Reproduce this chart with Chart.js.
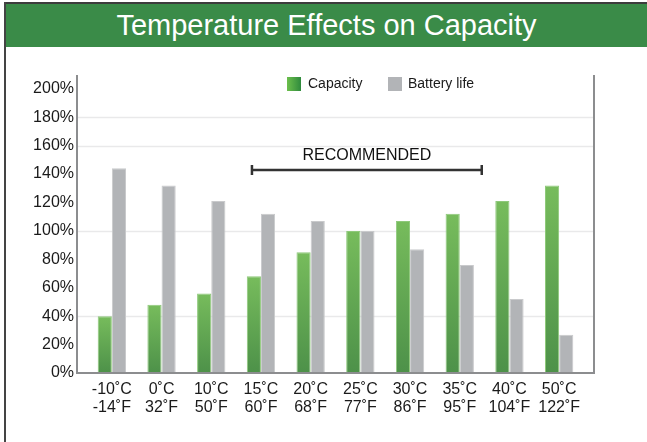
<!DOCTYPE html>
<html lang="en">
<head>
  <meta charset="UTF-8">
  <title>Temperature Effects on Capacity</title>
  <script src="https://cdn.jsdelivr.net/npm/chart.js"></script>
  <style>
    body { margin: 0; background: #fff; font-family: "Liberation Sans", Arial, sans-serif; }
    .page { position: relative; width: 647px; height: 442px; overflow: hidden; background: #fff; }
    .edge-top { position: absolute; left: 4px; top: 2px; right: 0; height: 2px; background: #3c3c3c; }
    .edge-left { position: absolute; left: 4px; top: 2px; bottom: 0; width: 2px; background: #444; }
    .banner {
      position: absolute; left: 6px; top: 4px; right: 0; height: 43px;
      background: #3a8b48; color: #fff; text-align: center;
      font-size: 29px; line-height: 43px;
    }
    #chart { position: absolute; left: 0; top: 48px; }
  </style>
</head>
<body>
  <div class="page">
    <div class="banner">Temperature Effects on Capacity</div>
    <canvas id="chart" width="647" height="394"></canvas>
    <div class="edge-top"></div>
    <div class="edge-left"></div>
  </div>

  <script>
    const categories = [
      ['-10˚C', '-14˚F'], ['0˚C', '32˚F'], ['10˚C', '50˚F'], ['15˚C', '60˚F'], ['20˚C', '68˚F'],
      ['25˚C', '77˚F'], ['30˚C', '86˚F'], ['35˚C', '95˚F'], ['40˚C', '104˚F'], ['50˚C', '122˚F']
    ];
    const capacity = [40, 48, 56, 68, 85, 100, 107, 112, 121, 132];
    const batteryLife = [144, 132, 121, 112, 107, 100, 87, 76, 52, 27];
    const yTicks = [0, 20, 40, 60, 80, 100, 120, 140, 160, 180, 200];
    const gridValues = [40, 100, 160, 180];
    const recommendedRange = [3, 7];   // 15˚C .. 35˚C
    const recommendedLabel = 'RECOMMENDED';

    const FONT = '"Liberation Sans", Arial, sans-serif';

    function greenFill(context) {
      const chart = context.chart;
      const y = chart.scales.y;
      if (!y || context.raw == null) return '#62a853';
      const top = y.getPixelForValue(context.raw);
      const bottom = y.getPixelForValue(0);
      if (!isFinite(top) || !isFinite(bottom)) return '#62a853';
      const g = chart.ctx.createLinearGradient(0, top, 0, bottom);
      g.addColorStop(0, '#77bc5c');
      g.addColorStop(1, '#4d9149');
      return g;
    }

    // axes frame, sparse gridlines, legend and the recommended bracket
    const decor = {
      id: 'decor',
      beforeDatasetsDraw(chart) {
        const { ctx, scales: { x, y } } = chart;
        const left = x.left - 10, right = x.right + 10;
        ctx.save();
        ctx.strokeStyle = '#e9e9ea';
        ctx.lineWidth = 1.5;
        gridValues.forEach(v => {
          const py = Math.round(y.getPixelForValue(v)) + 0.5;
          ctx.beginPath();
          ctx.moveTo(left, py);
          ctx.lineTo(right, py);
          ctx.stroke();
        });
        ctx.restore();
      },
      afterDatasetsDraw(chart) {
        const { ctx, scales: { x, y } } = chart;
        const left = x.left - 10, right = x.right + 10;
        const top = y.top - 1, bottom = y.getPixelForValue(0);

        ctx.save();
        ctx.strokeStyle = '#8c8d8f';
        ctx.lineWidth = 2;
        ctx.beginPath();
        ctx.moveTo(left, top);
        ctx.lineTo(left, bottom);
        ctx.lineTo(right, bottom);
        ctx.lineTo(right, top);
        ctx.stroke();

        // legend
        const ds = chart.data.datasets;
        const ly = y.top + 1;
        const lg = ctx.createLinearGradient(287, 0, 301, 0);
        lg.addColorStop(0, '#6cbf4c');
        lg.addColorStop(1, '#2f8a3d');
        ctx.fillStyle = lg;
        ctx.fillRect(287, ly, 14, 14);
        ctx.fillStyle = ds[1].backgroundColor;
        ctx.fillRect(388, ly, 14, 14);
        ctx.fillStyle = '#1a1a1a';
        ctx.font = '14px ' + FONT;
        ctx.textBaseline = 'middle';
        ctx.textAlign = 'left';
        ctx.fillText(ds[0].label, 308, ly + 7);
        ctx.fillText(ds[1].label, 408, ly + 7);

        // recommended bracket
        const bx1 = x.getPixelForValue(recommendedRange[0]) - 9;
        const bx2 = x.getPixelForValue(recommendedRange[1]) + 22;
        const by = Math.round(y.getPixelForValue(143));
        ctx.strokeStyle = '#333';
        ctx.lineWidth = 2.5;
        ctx.beginPath();
        ctx.moveTo(bx1, by);
        ctx.lineTo(bx2, by);
        ctx.moveTo(bx1, by - 5);
        ctx.lineTo(bx1, by + 5);
        ctx.moveTo(bx2, by - 5);
        ctx.lineTo(bx2, by + 5);
        ctx.stroke();
        ctx.fillStyle = '#111';
        ctx.font = '16px ' + FONT;
        ctx.textAlign = 'center';
        ctx.fillText(recommendedLabel, (bx1 + bx2) / 2, by - 14);
        ctx.restore();
      }
    };

    new Chart(document.getElementById('chart'), {
      type: 'bar',
      data: {
        labels: categories,
        datasets: [{
          label: 'Capacity',
          data: capacity,
          backgroundColor: greenFill,
          borderColor: '#8ec97a',
          borderWidth: { left: 1, right: 1, top: 1, bottom: 0 },
          borderSkipped: false
        }, {
          label: 'Battery life',
          data: batteryLife,
          backgroundColor: '#b2b4b7',
          borderColor: '#c9cacc',
          borderWidth: { left: 1, right: 1, top: 1, bottom: 0 },
          borderSkipped: false
        }]
      },
      options: {
        responsive: false,
        animation: false,
        devicePixelRatio: 1,
        layout: { padding: { top: 28, right: 63, left: 0, bottom: 0 } },
        datasets: { bar: { categoryPercentage: 0.57, barPercentage: 1 } },
        plugins: {
          legend: { display: false },
          tooltip: { enabled: false }
        },
        scales: {
          x: {
            grid: { display: false, drawTicks: false },
            border: { display: false },
            ticks: {
              color: '#1a1a1a',
              padding: 8,
              maxRotation: 0,
              autoSkip: false,
              font: { family: FONT, size: 16, lineHeight: 1.12 }
            },
            afterFit(scale) { scale.height = 69; }
          },
          y: {
            min: 0,
            max: 209,
            grid: { display: false, drawTicks: false },
            border: { display: false },
            afterBuildTicks(scale) { scale.ticks = yTicks.map(v => ({ value: v })); },
            ticks: {
              color: '#1a1a1a',
              padding: 13,
              font: { family: FONT, size: 16 },
              callback: v => v + '%'
            },
            afterFit(scale) { scale.width = 87; }
          }
        }
      },
      plugins: [decor]
    });
  </script>
</body>
</html>
